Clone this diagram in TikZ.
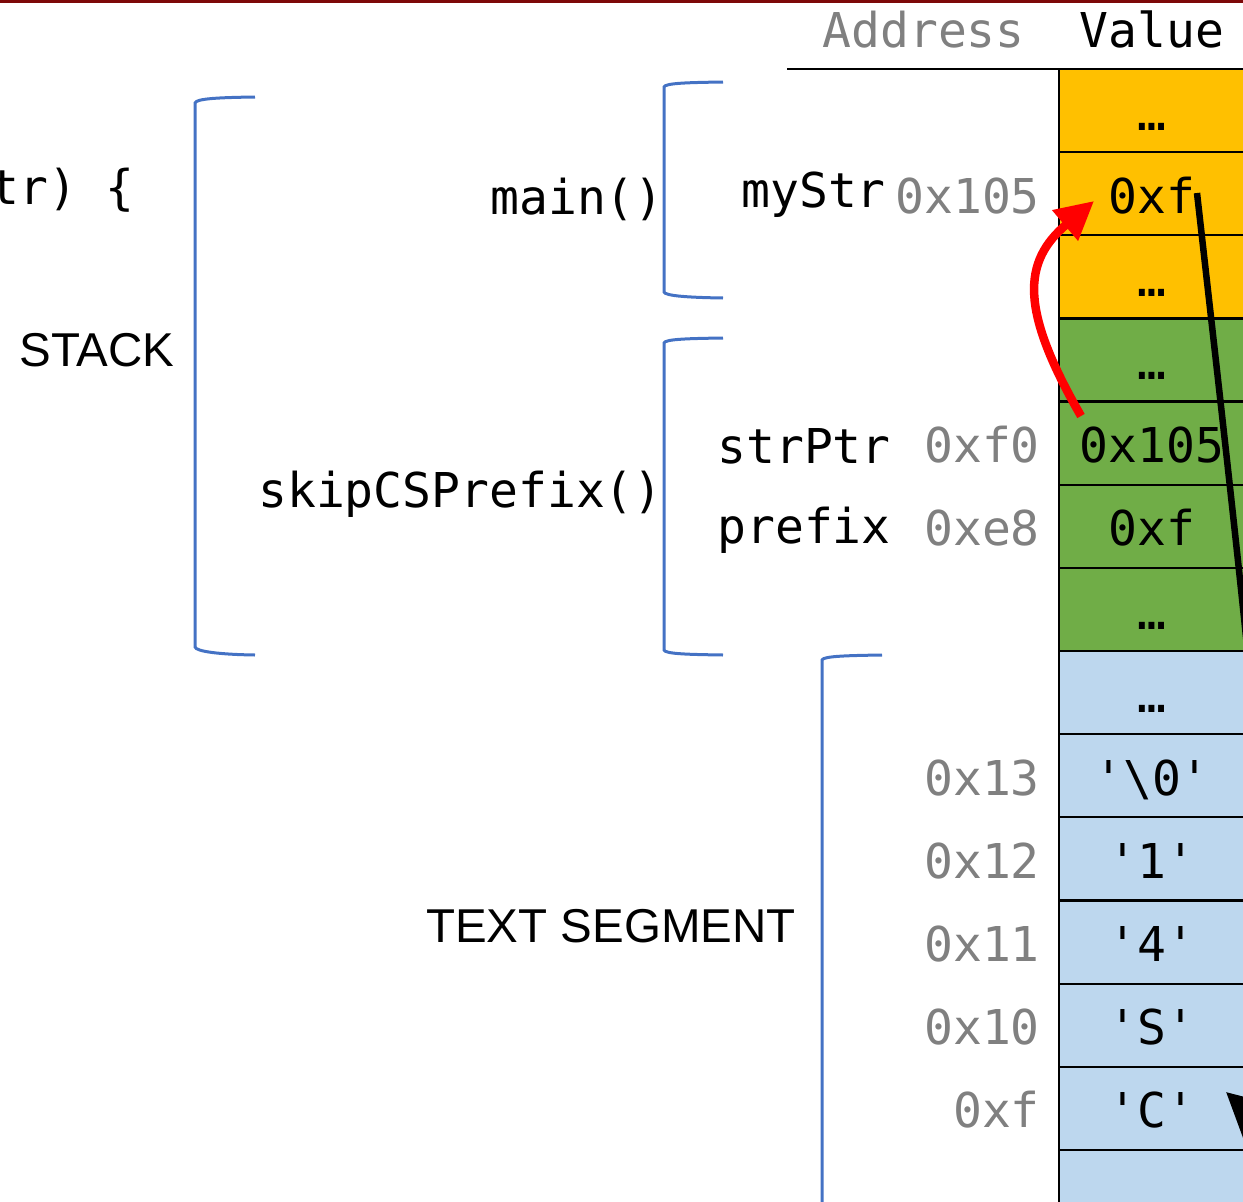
\documentclass[tikz,border=0pt]{standalone}
\usepackage{fontspec}
\setmainfont{Liberation Sans}
\newfontfamily\monofam{DejaVu Sans Mono}
\usetikzlibrary{arrows.meta}
\definecolor{ylw}{RGB}{255,192,0}
\definecolor{grn}{RGB}{112,173,71}
\definecolor{lblue}{RGB}{189,215,238}
\definecolor{brblue}{RGB}{68,114,196}
\definecolor{addrgray}{RGB}{128,128,128}
\definecolor{topred}{RGB}{125,8,8}
\begin{document}
\begin{tikzpicture}[x=1pt,y=-1pt,
  monotxt/.style={font=\monofam\fontsize{48}{58}\selectfont},
  cell/.style={monotxt, draw=black, line width=2.2pt, minimum width=186pt,
    minimum height=83.15pt, inner sep=0pt, text height=39pt, text depth=0pt},
  addr/.style={monotxt, text=addrgray, anchor=base east, inner sep=0pt},
  lbl/.style={monotxt, anchor=base east, inner sep=0pt},
  sanslbl/.style={font=\fontsize{47.5}{57}\selectfont, inner sep=0pt},
  brk/.style={draw=brblue, line width=3pt},
  redptr/.style={draw=red, line width=8.5pt},
  blackptr/.style={draw=black, line width=6.5pt}
]
\useasboundingbox (0,0) rectangle (1243,1202);
\clip (0,0) rectangle (1243,1202);
\fill[topred] (0,0) rectangle (1243,3);

% header
\node[addr, anchor=base east] (hAddr) at (1025,47) {Address};
\node[lbl, anchor=base] (hVal) at (1152,47) {Value};
\draw[line width=2.5pt] (787,69) -- (1243,69);

% memory cells
\node[cell, fill=ylw] (m0) at (1152,110.6) {…};
\node[cell, fill=ylw] (m1) at (1152,193.7) {0xf};
\node[cell, fill=ylw] (m2) at (1152,276.9) {…};
\node[cell, fill=grn] (m3) at (1152,360.0) {…};
\node[cell, fill=grn] (m4) at (1152,443.2) {0x105};
\node[cell, fill=grn] (m5) at (1152,526.3) {0xf};
\node[cell, fill=grn] (m6) at (1152,609.5) {…};
\node[cell, fill=lblue] (m7) at (1152,692.6) {…};
\node[cell, fill=lblue] (m8) at (1152,775.8) {\textquotesingle\textbackslash0\textquotesingle};
\node[cell, fill=lblue] (m9) at (1152,858.9) {\textquotesingle1\textquotesingle};
\node[cell, fill=lblue] (m10) at (1152,942.1) {\textquotesingle4\textquotesingle};
\node[cell, fill=lblue] (m11) at (1152,1025.2) {\textquotesingle S\textquotesingle};
\node[cell, fill=lblue] (m12) at (1152,1108.4) {\textquotesingle C\textquotesingle};
\node[cell, fill=lblue] (m13) at (1152,1191.5) {};

% addresses
\node[addr] (a1) at (1040,213.2) {0x105};
\node[addr] (a4) at (1040,462.7) {0xf0};
\node[addr] (a5) at (1040,545.8) {0xe8};
\node[addr] (a8) at (1040,795.3) {0x13};
\node[addr] (a9) at (1040,878.4) {0x12};
\node[addr] (a10) at (1040,961.6) {0x11};
\node[addr] (a11) at (1040,1044.7) {0x10};
\node[addr] (a12) at (1040,1127.9) {0xf};

% variable names
\node[lbl] (vMyStr) at (886,207) {myStr};
\node[lbl] (vStrPtr) at (891,463) {strPtr};
\node[lbl] (vPrefix) at (891,543) {prefix};

% function names and code
\node[lbl] (fMain) at (664,214) {main()};
\node[lbl] (fSkip) at (663,507.5) {skipCSPrefix()};
\node[lbl] (code) at (135,204) {tr) \{};

% section labels
\node[sanslbl] (lStack) at (97,350) {STACK};
\node[sanslbl] (lText) at (611,926) {TEXT SEGMENT};

% brackets
\draw[brk] (255,97) .. controls (220,97.5) and (196,98.5) .. (195,103) -- (195,647)
  .. controls (196,651.5) and (220,654.5) .. (255,655);
\draw[brk] (723,82) .. controls (690,82.5) and (665,83) .. (664,87) -- (664,292)
  .. controls (665,296) and (690,297.5) .. (723,298);
\draw[brk] (723,338) .. controls (690,338.5) and (665,339) .. (664,343) -- (664,650)
  .. controls (665,654) and (690,654.5) .. (723,655);
\draw[brk] (882,655) .. controls (850,655.5) and (823,656) .. (822,660) -- (822,1210);

% pointers
\coordinate (rs) at (1081,416);
\coordinate (rt) at (1094,201);
\draw[redptr, -{Triangle[length=38pt,width=38pt]}] (rs) .. controls (1020,310) and (1022,262) .. (rt);
\coordinate (bs) at (1197,193);
\coordinate (bt) at (1226,1092);
\draw[blackptr, -{Triangle[length=44pt,width=44pt]}] (bs) .. controls (1245,620) and (1310,1168) .. (bt);
\end{tikzpicture}
\end{document}
